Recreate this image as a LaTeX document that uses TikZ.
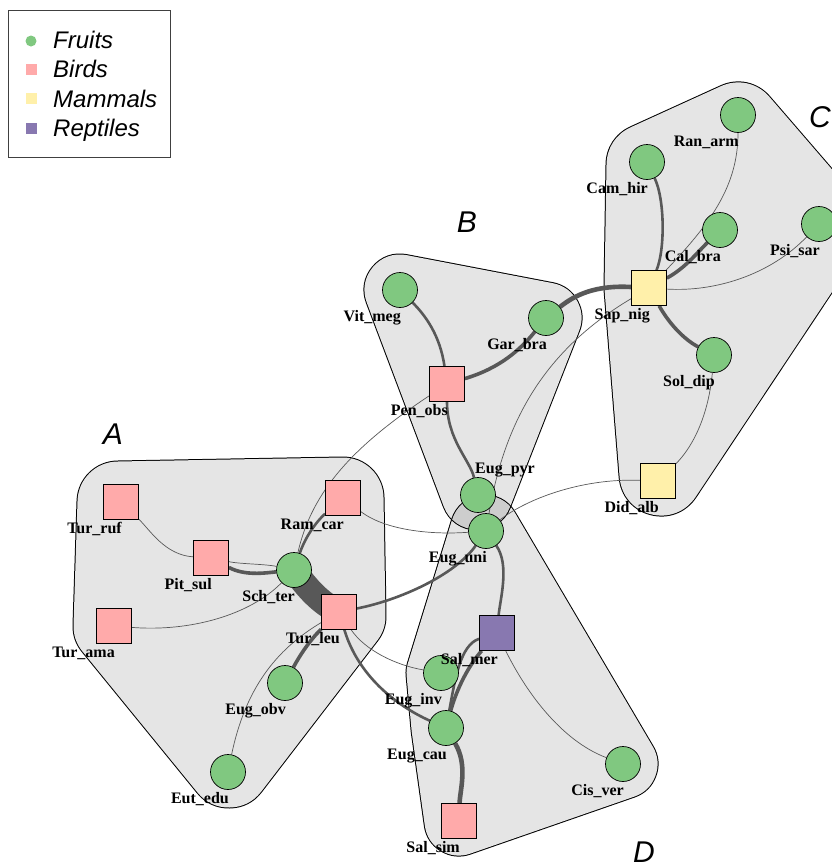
\documentclass[tikz,border=0pt]{standalone}
\usepackage{fontspec}
\newfontfamily\lblfont{Liberation Serif}
\newfontfamily\keyfont{Liberation Sans}
\usetikzlibrary{backgrounds}

\definecolor{fruitgreen}{RGB}{128,200,128}
\definecolor{birdpink}{RGB}{255,170,170}
\definecolor{mammalyellow}{RGB}{255,240,170}
\definecolor{reptilepurple}{RGB}{136,120,176}
\definecolor{hullgray}{RGB}{229,229,229}
\definecolor{edgegray}{RGB}{88,88,88}

\pgfdeclarelayer{hulls}
\pgfdeclarelayer{edges}
\pgfsetlayers{hulls,edges,main}

\tikzset{
  fruit/.style={circle, draw=black, line width=0.7pt, fill=fruitgreen, minimum size=35pt, inner sep=0pt},
  bird/.style={rectangle, draw=black, line width=0.7pt, fill=birdpink, minimum size=35pt, inner sep=0pt},
  mammal/.style={bird, fill=mammalyellow},
  reptile/.style={bird, fill=reptilepurple},
  lblbase/.style={font=\lblfont\bfseries\fontsize{16pt}{16pt}\selectfont, inner sep=0pt},
  lbl/.style={lblbase, anchor=base east, xshift=1pt, yshift=-14pt},
  thinedge/.style={draw=edgegray, line width=0.7pt},
  midedge/.style={draw=edgegray, line width=2.6pt},
  thickedge/.style={draw=edgegray, line width=3.6pt},
  heavyedge/.style={draw=edgegray, line width=4.6pt},
  blobedge/.style={draw=edgegray, line width=25pt},
  hullrim/.style={draw=black, fill=black, line join=round},
  hullbody/.style={draw=hullgray, fill=hullgray, line join=round},
  keysym/.style={draw=none, minimum size=11pt, inner sep=0pt},
  keytext/.style={font=\keyfont\itshape\fontsize{24pt}{24pt}\selectfont, anchor=base west, inner sep=0pt},
  hulltag/.style={font=\keyfont\itshape\fontsize{30pt}{30pt}\selectfont, inner sep=0pt}
}

\begin{document}
\begin{tikzpicture}[x=1pt, y=-1pt]
\useasboundingbox (0,0) rectangle (831,868);

\node[fruit, label={[lbl]south:Vit\_meg}] (vitmeg) at (400,290) {};
\node[fruit, label={[lbl]south:Gar\_bra}] (garbra) at (546,318) {};
\node[fruit, label={[lblbase, anchor=base west, xshift=-3pt, yshift=4pt]north:Eug\_pyr}] (eugpyr) at (478,495) {};
\node[fruit, label={[lbl]south:Eug\_uni}] (euguni) at (486,531) {};
\node[fruit, label={[lbl]south:Sch\_ter}] (schter) at (294,570) {};
\node[fruit, label={[lbl]south:Eug\_obv}] (eugobv) at (285,683) {};
\node[fruit, label={[lbl]south:Eut\_edu}] (eutedu) at (228,772) {};
\node[fruit, label={[lbl]south:Ran\_arm}] (ranarm) at (738,115) {};
\node[fruit, label={[lbl]south:Cam\_hir}] (camhir) at (647,162) {};
\node[fruit, label={[lbl]south:Cal\_bra}] (calbra) at (720,230) {};
\node[fruit, label={[lbl]south:Psi\_sar}] (psisar) at (819,224) {};
\node[fruit, label={[lbl]south:Sol\_dip}] (soldip) at (714,355) {};
\node[fruit, label={[lbl]south:Eug\_inv}] (euginv) at (441,673) {};
\node[fruit, label={[lbl]south:Eug\_cau}] (eugcau) at (446,728) {};
\node[fruit, label={[lbl]south:Cis\_ver}] (cisver) at (623,764) {};

\node[bird, label={[lbl]south:Tur\_ruf}] (turruf) at (121,502) {};
\node[bird, label={[lbl]south:Pit\_sul}] (pitsul) at (211,558) {};
\node[bird, label={[lbl]south:Ram\_car}] (ramcar) at (343,498) {};
\node[bird, label={[lbl]south:Tur\_ama}] (turama) at (114,626) {};
\node[bird, label={[lbl]south:Tur\_leu}] (turleu) at (339,612) {};
\node[bird, label={[lbl]south:Pen\_obs}] (penobs) at (447,384) {};
\node[bird, label={[lbl]south:Sal\_sim}] (salsim) at (459,821) {};

\node[mammal, label={[lbl]south:Sap\_nig}] (sapnig) at (649,288) {};
\node[mammal, label={[lbl]south:Did\_alb}] (didalb) at (658,481) {};

\node[reptile, label={[lbl]south:Sal\_mer}] (salmer) at (497,633) {};

\node[hulltag] (tagA) at (113,434) {A};
\node[hulltag] (tagB) at (467,222) {B};
\node[hulltag] (tagC) at (820,117) {C};
\node[hulltag] (tagD) at (644,852) {D};

\draw[draw=black!75, line width=0.9pt] (8,10) rectangle (170,157);
\node[keysym, circle, fill=fruitgreen] (keyfruit) at (31,41) {};
\node[keysym, fill=birdpink] (keybird) at (31,69) {};
\node[keysym, fill=mammalyellow] (keymammal) at (31,98) {};
\node[keysym, fill=reptilepurple] (keyreptile) at (31,128) {};
\node[keytext] (txtfruit) at (53,48) {Fruits};
\node[keytext] (txtbird) at (53,77) {Birds};
\node[keytext] (txtmammal) at (53,107) {Mammals};
\node[keytext] (txtreptile) at (53,136) {Reptiles};

\begin{pgfonlayer}{hulls}
\fill[white] (0,0) rectangle (831,868);
\begin{scope}[blend mode=multiply]
\begin{scope}[transparency group]
\draw[hullrim, line width=83pt] (118,502) -- (343,498) -- (345,616) -- (229,767) -- (114,626) -- cycle;
\draw[hullbody, line width=81pt] (118,502) -- (343,498) -- (345,616) -- (229,767) -- (114,626) -- cycle;
\end{scope}
\end{scope}
\begin{scope}[blend mode=multiply]
\begin{scope}[transparency group]
\draw[hullrim, line width=73pt] (400,290) -- (546,318) -- (477,494) -- cycle;
\draw[hullbody, line width=71pt] (400,290) -- (546,318) -- (477,494) -- cycle;
\end{scope}
\end{scope}
\begin{scope}[blend mode=multiply]
\begin{scope}[transparency group]
\draw[hullrim, line width=85pt] (648,165) -- (738,124) -- (826,226) -- (661,474) -- (646,288) -- cycle;
\draw[hullbody, line width=83pt] (648,165) -- (738,124) -- (826,226) -- (661,474) -- (646,288) -- cycle;
\end{scope}
\end{scope}
\begin{scope}[blend mode=multiply]
\begin{scope}[transparency group]
\draw[hullrim, line width=71pt] (485,530) -- (623,764) -- (459,821) -- (446,728) -- (441,673) -- cycle;
\draw[hullbody, line width=69pt] (485,530) -- (623,764) -- (459,821) -- (446,728) -- (441,673) -- cycle;
\end{scope}
\end{scope}
\end{pgfonlayer}

\begin{pgfonlayer}{edges}
\draw[thinedge] (turruf) .. controls (150,530) and (165,555) .. (pitsul);
\draw[thickedge] (pitsul) .. controls (245,576) and (265,573) .. (schter);
\draw[thinedge] (pitsul) .. controls (240,564) and (265,564) .. (schter);
\draw[blobedge] (schter.center) .. controls (307,588) and (320,603) .. (turleu.center);
\draw[thinedge] (turama) .. controls (190,632) and (250,615) .. (schter);
\draw[midedge] (schter) .. controls (306,535) and (318,520) .. (ramcar);
\draw[thinedge] (schter) .. controls (312,490) and (355,445) .. (penobs);
\draw[thinedge] (ramcar) .. controls (385,530) and (430,535) .. (euguni);
\draw[midedge] (turleu) .. controls (400,600) and (455,575) .. (euguni);
\draw[thickedge] (turleu) .. controls (310,640) and (300,655) .. (eugobv);
\draw[thinedge] (turleu) .. controls (275,650) and (245,690) .. (eutedu);
\draw[thinedge] (turleu) .. controls (365,650) and (395,665) .. (euginv);
\draw[midedge] (turleu) .. controls (358,675) and (395,705) .. (eugcau);
\draw[midedge] (vitmeg) .. controls (425,315) and (440,335) .. (penobs);
\draw[thickedge] (penobs) .. controls (500,368) and (520,350) .. (garbra);
\draw[midedge] (penobs) .. controls (447,440) and (470,460) .. (eugpyr);
\draw[heavyedge] (garbra) .. controls (575,295) and (595,285) .. (sapnig);
\draw[thinedge] (sapnig) .. controls (545,350) and (505,420) .. (euguni);
\draw[thinedge] (didalb) .. controls (580,478) and (525,500) .. (euguni);
\draw[midedge] (camhir) .. controls (665,200) and (665,250) .. (sapnig);
\draw[thinedge] (ranarm) .. controls (738,185) and (712,222) .. (sapnig);
\draw[thickedge] (calbra) .. controls (695,255) and (685,268) .. (sapnig);
\draw[thinedge] (sapnig) .. controls (715,292) and (770,275) .. (psisar);
\draw[thickedge] (sapnig) .. controls (670,325) and (685,340) .. (soldip);
\draw[thinedge] (soldip) .. controls (708,420) and (690,450) .. (didalb);
\draw[midedge] (euguni) .. controls (510,565) and (500,600) .. (salmer);
\draw[thickedge] (salmer) .. controls (465,670) and (455,695) .. (eugcau);
\draw[midedge] (salmer) .. controls (460,645) and (455,680) .. (eugcau);
\draw[thinedge] (salmer) .. controls (525,690) and (560,740) .. (cisver);
\draw[heavyedge] (eugcau) .. controls (468,765) and (460,790) .. (salsim);
\end{pgfonlayer}
\end{tikzpicture}
\end{document}
